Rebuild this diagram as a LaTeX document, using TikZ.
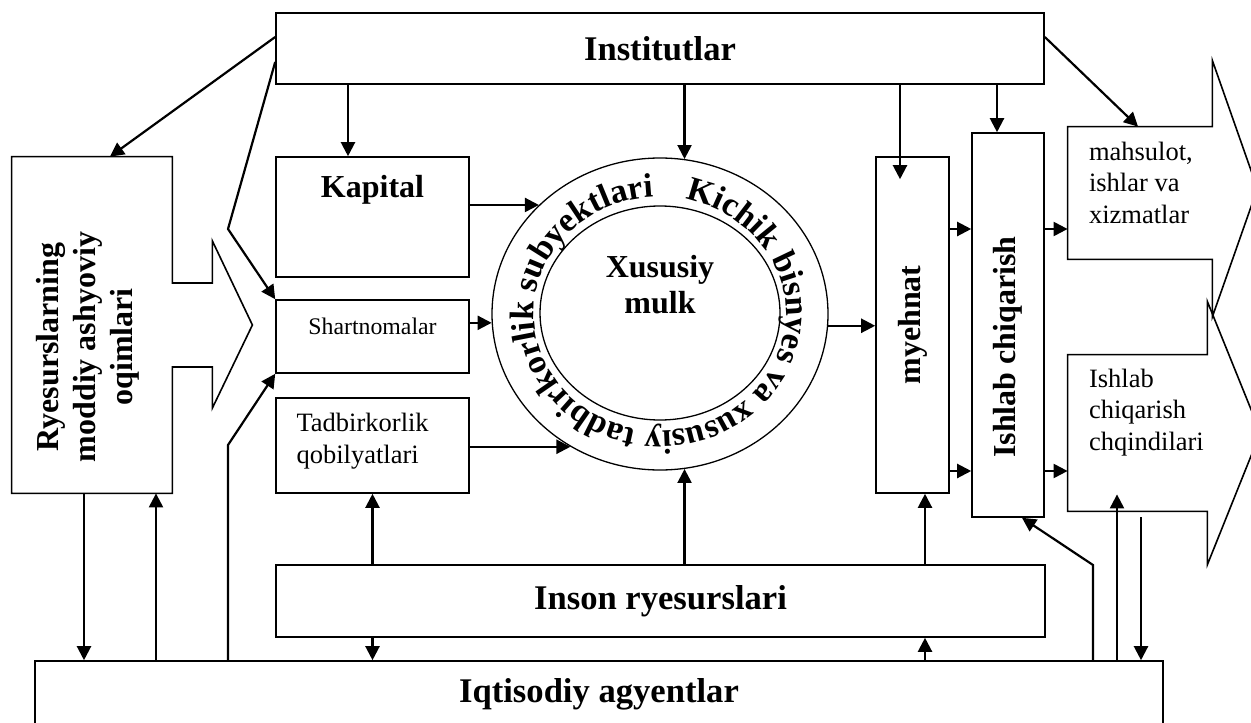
\documentclass[tikz,border=0pt]{standalone}
\usepackage{fontspec}
\setmainfont{Liberation Serif}
\usetikzlibrary{
    arrows.meta,
    shapes.geometric,
    calc,
    positioning,
    decorations.text
}
\newcommand\txtbig{\fontsize{17.3}{20}\selectfont\bfseries}
\newcommand\txtbold{\fontsize{16}{18}\selectfont\bfseries}
\newcommand\txtreg{\fontsize{13.25}{15.75}\selectfont}
\newcommand\txtsmall{\fontsize{11.9}{14}\selectfont}
\newcommand\txtring{\fontsize{17}{19}\selectfont\bfseries}
\tikzset{
    box/.style={draw, line width=0.8pt, inner sep=0pt},
    outline/.style={line width=0.8pt},
    oval/.style={draw, ellipse, line width=0.65pt, inner sep=0pt},
    arr/.style={line width=1.1pt, -{Triangle[length=7pt,width=7pt]}},
    lbl/.style={inner sep=0pt}
}

\begin{document}
\begin{tikzpicture}[x=0.5pt,y=0.5pt]
                        \useasboundingbox (0,0) rectangle (1251,-722);

                        \node[box, minimum width=384pt, minimum height=35.5pt, font=\txtbig] (inst) at (660,-48.5) {Institutlar};
                        \node[box, minimum width=96.5pt, minimum height=60pt] (kapital) at (372.5,-217) {};
                        \node[box, minimum width=96.5pt, minimum height=36.5pt] (shart) at (372.5,-336.5) {};
                        \node[box, minimum width=96.5pt, minimum height=47.5pt] (tadbir) at (372.5,-445.5) {};
                        \node[box, minimum width=384.5pt, minimum height=36pt, font=\txtbig] (inson) at (660.5,-601) {Inson ryesurslari};
                        \node[box, minimum width=564pt, minimum height=33pt, font=\txtbig] (iqtis) at (599,-694) {Iqtisodiy agyentlar};
                        \node[box, minimum width=36.5pt, minimum height=168pt] (myehnat) at (912.5,-325) {};
                        \node[box, minimum width=36pt, minimum height=192pt] (ishlab) at (1008,-325) {};
                        \node[oval, minimum width=168pt, minimum height=156pt] (ring) at (660,-314) {};
                        \node[oval, minimum width=120pt, minimum height=107pt] (core) at (660,-313) {};
                        \node[lbl, minimum width=80pt, minimum height=168pt] (oqim) at (92,-325) {};
                        \node[lbl, minimum width=72pt, minimum height=66pt] (out1) at (1140,-193) {};
                        \node[lbl, minimum width=69.5pt, minimum height=78pt] (out2) at (1137.5,-433) {};

                        \draw[outline] (oqim.north west) -- (oqim.north east) -- ([yshift=21pt]oqim.east) -- ++(40,0) -- ++(0,42) -- ++(40,-84) -- ++(-40,-83) -- ++(0,41) -- ++(-40,0) -- (oqim.south east) -- (oqim.south west) -- cycle;
                        \draw[outline] (out1.north west) -- (out1.north east) -- ++(0,66) -- ++(45,-128) -- ++(-45,-128) -- (out1.south east) -- (out1.south west) -- cycle;
                        \draw[outline] (out2.north west) -- (out2.north east) -- ++(0,53) -- ++(53,-131) -- ++(-53,-132) -- (out2.south east) -- (out2.south west) -- cycle;

                        \node[lbl, font=\txtbold] (kapitaltxt) at ([yshift=-17pt]kapital.north) {Kapital};
                        \node[lbl, font=\txtsmall] (sharttxt) at ([yshift=5.25pt]shart.center) {Shartnomalar};
                        \node[lbl, font=\txtreg, align=left, below right=8pt and 10.5pt of tadbir.north west] (tadbirtxt) {Tadbirkorlik\\qobilyatlari};
                        \node[lbl, font=\txtbold, align=center] (coretxt) at ([yshift=14pt]core.center) {Xususiy\\mulk};
                        \node[lbl, font=\txtbold, rotate=90] (myehnattxt) at (myehnat.center) {myehnat};
                        \node[lbl, font=\txtbold, rotate=90] (ishlabtxt) at ([yshift=-11pt]ishlab.center) {Ishlab chiqarish};
                        \node[lbl, font=\fontsize{16}{18.5}\selectfont\bfseries, rotate=90, align=center] (oqimtxt) at ([xshift=-2pt,yshift=-11pt]oqim.center) {Ryesurslarning\\moddiy ashyoviy\\oqimlari};
                        \node[lbl, font=\txtreg, align=left, below right=7.5pt and 10.5pt of out1.north west] (out1txt) {mahsulot,\\ishlar va\\xizmatlar};
                        \node[lbl, font=\txtreg, align=left, below right=7pt and 10.5pt of out2.north west] (out2txt) {Ishlab\\chiqarish\\chqindilari};

                        \path[decorate, decoration={text along path, text align=center,
                            text={|\txtring|Kichik bisnyes va xususiy tadbirkorlik subyektlari}}]
                            (ring.center) ++(85.5:126 and 117) arc[start angle=85.5, end angle=-274.5, x radius=126, y radius=117];

                        \coordinate (bendA) at (228,-229);
                        \coordinate (bendB) at (228,-445);
                        \coordinate (bendC) at (1093,-565);

                        \draw[arr] ([yshift=5.75pt]inst.west) -- ([xshift=9pt]oqim.north);
                        \draw[arr] ([yshift=-6.75pt]inst.west) -- (bendA) -- (shart.north west);
                        \draw[arr] (bendB |- iqtis.north) -- (bendB) -- (shart.south west);
                        \draw[arr] (bendC |- iqtis.north) -- (bendC) -- ([xshift=7pt]ishlab.south);

                        \foreach \dy/\dst in {48/out1,-73/out2}{
                            \draw[arr] ([yshift=\dy pt]myehnat.east) -- ([yshift=\dy pt]myehnat.east -| ishlab.west);
                            \draw[arr] ([yshift=\dy pt]ishlab.east) -- ([yshift=\dy pt]ishlab.east -| \dst.west);
                        }

                        \draw
                        ([xshift=-12.25pt]kapital.north |- inst.south) edge[arr] ([xshift=-12.25pt]kapital.north)
                        (inst.south -| ring.81) edge[arr] (ring.81)
                        ([xshift=-6.25pt]myehnat.north |- inst.south) edge[arr] ([xshift=-6.25pt,yshift=-11.5pt]myehnat.north)
                        ([xshift=-5.5pt]ishlab.north |- inst.south) edge[arr] ([xshift=-5.5pt]ishlab.north)
                        ([yshift=5.75pt]inst.east) edge[arr] ([xshift=-1pt]out1.north)
                        (kapital.east |- ring.138) edge[arr] (ring.138)
                        (shart.east |- ring.183) edge[arr] (ring.183)
                        (tadbir.east |- ring.236) edge[arr] (ring.236)
                        (ring.-4) edge[arr] (myehnat.west |- ring.-4)
                        (tadbir.south |- inson.north) edge[arr] (tadbir.south)
                        (ring.-81 |- inson.north) edge[arr] (ring.-81)
                        ([xshift=6.25pt]myehnat.south |- inson.north) edge[arr] ([xshift=6.25pt]myehnat.south)
                        (tadbir.south |- inson.south) edge[arr] (tadbir.south |- iqtis.north)
                        ([xshift=6.25pt]myehnat.south |- iqtis.north) edge[arr] ([xshift=6.25pt]myehnat.south |- inson.south)
                        ([xshift=-4pt]oqim.south) edge[arr] ([xshift=-4pt]oqim.south |- iqtis.north)
                        ([xshift=32pt]oqim.south |- iqtis.north) edge[arr] ([xshift=32pt]oqim.south)
                        ([xshift=-10.25pt]out2.south |- iqtis.north) edge[arr] ([xshift=-10.25pt,yshift=8.5pt]out2.south)
                        ([xshift=1.75pt,yshift=-3pt]out2.south) edge[arr] ([xshift=1.75pt]out2.south |- iqtis.north);
                    \end{tikzpicture}
\end{document}
